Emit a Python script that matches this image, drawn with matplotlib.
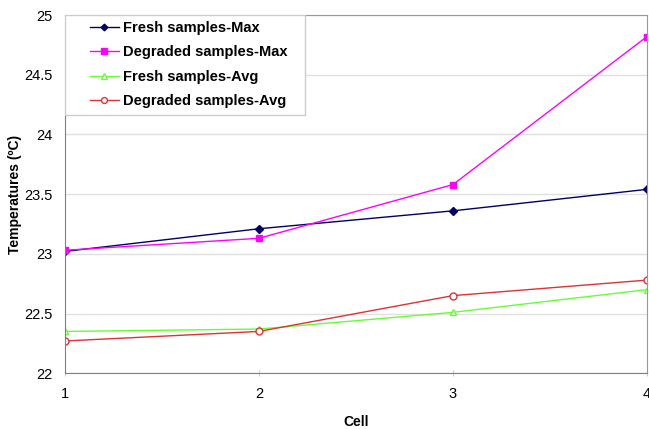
import matplotlib
matplotlib.use("Agg")
import matplotlib.pyplot as plt
from matplotlib.lines import Line2D
from matplotlib.legend_handler import HandlerLine2D
from matplotlib.patches import Rectangle

plt.rcParams["font.family"] = ["Liberation Sans", "DejaVu Sans"]

cells = [1, 2, 3, 4]
fresh_max = [23.02, 23.21, 23.36, 23.54]
degraded_max = [23.03, 23.13, 23.58, 24.82]
fresh_avg = [22.35, 22.37, 22.51, 22.70]
degraded_avg = [22.27, 22.35, 22.65, 22.78]

fig = plt.figure(figsize=(6.49, 4.29), dpi=100)
ax = fig.add_axes([0.100, 0.130, 0.897, 0.835])

ax.plot(cells, fresh_max, color="#000066", marker="D", markersize=4,
        linewidth=1, label="Fresh samples-Max")
ax.plot(cells, degraded_max, color="#ff00ff", marker="s", markersize=5,
        linewidth=1, label="Degraded samples-Max")
ax.plot(cells, fresh_avg, color="#66ff33", marker="^", markersize=5,
        markerfacecolor="white", linewidth=1, label="Fresh samples-Avg")
ax.plot(cells, degraded_avg, color="#dd3333", marker="o", markersize=5,
        markerfacecolor="white", linewidth=1, label="Degraded samples-Avg")

ax.set_xlim(1, 4)
ax.set_ylim(22, 25)
ax.set_xticks(cells)
ax.set_yticks([22, 22.5, 23, 23.5, 24, 24.5, 25])
ax.set_yticklabels(["22", "22.5", "23", "23.5", "24", "24.5", "25"])
ax.yaxis.grid(True, color="#e0e0e0", linewidth=1)
ax.set_axisbelow(True)

for side in ["top", "right"]:
    ax.spines[side].set_color("#999999")
for side in ["left", "bottom"]:
    ax.spines[side].set_color("#808080")
ax.tick_params(axis="y", length=0, labelsize=10.5, pad=9)
ax.tick_params(axis="x", length=4, color="#cccccc", labelsize=10.5, pad=8, direction="inout")

ax.set_xlabel("Cell", fontweight="bold", fontsize=10, labelpad=10)
ax.set_ylabel("Temperatures (ºC)", fontweight="bold", fontsize=10)
ax.yaxis.set_label_coords(-0.074, 0.5)

# legend box (drawn separately so the padding matches the original)
ax.add_patch(Rectangle((0.0, 0.721), 0.412, 0.279, transform=ax.transAxes,
                       facecolor="white", edgecolor="#cccccc", linewidth=1,
                       zorder=4))
leg = ax.legend(loc="upper left", bbox_to_anchor=(0.0, 1.0),
                prop={"weight": "bold", "size": 10.5}, frameon=False,
                labelspacing=0.72, handlelength=3.3, handletextpad=0.3,
                borderaxespad=0, markerscale=0.85,
                handler_map={Line2D: HandlerLine2D(xpad=1.3)})
leg.set_zorder(5)

plt.savefig("out.png", dpi=100)
